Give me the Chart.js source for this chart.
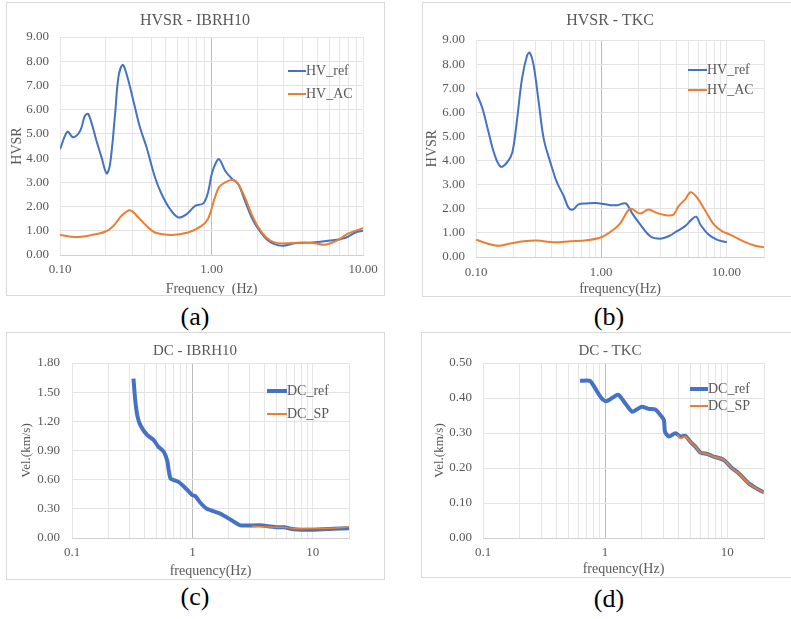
<!DOCTYPE html>
<html><head><meta charset="utf-8">
<script src="https://cdn.jsdelivr.net/npm/chart.js@4.4.1/dist/chart.umd.min.js"></script>
<style>
body{margin:0;background:#fff;width:791px;height:619px;position:relative;overflow:hidden;font-family:"Liberation Serif","Times New Roman",serif;}
canvas{position:absolute;}
.bx{position:absolute;border:1px solid #d9d9d9;box-sizing:border-box;pointer-events:none;}
.ttl{position:absolute;color:#595959;white-space:nowrap;transform:translate(-50%,-50%);}
.lg{position:absolute;color:#595959;font-size:14px;white-space:nowrap;display:flex;align-items:center;transform:translateY(-50%);}
.sw{display:inline-block;}
.lab{position:absolute;color:#000;font-size:26px;transform:translate(-50%,-50%);white-space:nowrap;}
</style></head>
<body>
<canvas id="ca" width="379" height="294" style="left:6px;top:2px"></canvas>
<canvas id="cb" width="368" height="295" style="left:422px;top:2px"></canvas>
<canvas id="cc" width="379" height="248" style="left:6px;top:332px"></canvas>
<canvas id="cd" width="369" height="246" style="left:421px;top:332px"></canvas>
<div class="bx" style="left:6px;top:2px;width:379px;height:294px"></div>
<div class="bx" style="left:422px;top:2px;width:370px;height:295px"></div>
<div class="bx" style="left:6px;top:332px;width:379px;height:248px"></div>
<div class="bx" style="left:421px;top:332px;width:371px;height:246px"></div>

<div class="ttl" style="left:195px;top:20px;font-size:16px">HVSR - IBRH10</div>
<div class="ttl" style="left:610px;top:20px;font-size:16px">HVSR - TKC</div>
<div class="ttl" style="left:195px;top:350px;font-size:15px">DC - IBRH10</div>
<div class="ttl" style="left:610px;top:350px;font-size:15px">DC - TKC</div>

<div class="lg" style="left:288px;top:71px"><span class="sw" style="width:18px;height:2px;background:#4472C4"></span>HV_ref</div>
<div class="lg" style="left:288px;top:94px"><span class="sw" style="width:18px;height:2px;background:#ED7D31"></span>HV_AC</div>
<div class="lg" style="left:688px;top:70px"><span class="sw" style="width:19px;height:2px;background:#4472C4"></span>HV_ref</div>
<div class="lg" style="left:688px;top:90px"><span class="sw" style="width:19px;height:2px;background:#ED7D31"></span>HV_AC</div>
<div class="lg" style="left:267px;top:391px"><span class="sw" style="width:20px;height:4px;background:#4472C4"></span>DC_ref</div>
<div class="lg" style="left:267px;top:414px"><span class="sw" style="width:20px;height:1.5px;background:#ED7D31"></span>DC_SP</div>
<div class="lg" style="left:690px;top:389px"><span class="sw" style="width:18px;height:4px;background:#4472C4"></span>DC_ref</div>
<div class="lg" style="left:690px;top:406px"><span class="sw" style="width:18px;height:2px;background:#ED7D31"></span>DC_SP</div>

<div class="lab" style="left:195px;top:317px">(a)</div>
<div class="lab" style="left:609px;top:317px">(b)</div>
<div class="lab" style="left:195px;top:597px">(c)</div>
<div class="lab" style="left:609px;top:599px">(d)</div>

<script>
// ---------- data ----------
// (a) HVSR - IBRH10
const freqA_ref = [0.10,0.112,0.122,0.136,0.146,0.154,0.174,0.188,0.203,0.214,0.231,0.243,0.259,0.275,0.305,0.337,0.373,0.424,0.469,0.532,0.605,0.686,0.78,0.883,0.95,1.0,1.05,1.12,1.23,1.36,1.5,1.66,1.84,2.04,2.3,2.6,2.97,3.54,4.6,5.9,7.6,8.9,10.0];
const hvA_ref   = [4.37,5.09,4.86,5.13,5.75,5.82,4.72,4.03,3.37,3.75,5.82,7.34,7.85,7.47,6.37,5.27,4.44,3.2,2.51,1.9,1.55,1.69,2.03,2.13,2.6,3.3,3.7,3.96,3.48,3.16,2.93,2.24,1.55,1.07,0.66,0.45,0.38,0.48,0.52,0.59,0.7,0.93,1.0];
const freqA_ac  = [0.10,0.126,0.16,0.2,0.225,0.255,0.29,0.329,0.373,0.424,0.545,0.7,0.86,0.95,1.05,1.12,1.23,1.39,1.5,1.66,1.84,2.04,2.3,2.6,3.05,3.9,4.8,5.6,6.7,8.0,10.0];
const hvA_ac    = [0.83,0.74,0.82,0.97,1.2,1.62,1.85,1.55,1.2,0.93,0.83,0.93,1.2,1.5,2.35,2.79,3.0,3.1,2.93,2.38,1.69,1.14,0.72,0.52,0.48,0.52,0.49,0.42,0.59,0.89,1.11];
// (b) HVSR - TKC
const freqB_ref = [0.10,0.112,0.126,0.139,0.157,0.177,0.195,0.213,0.233,0.256,0.269,0.289,0.317,0.348,0.393,0.444,0.502,0.55,0.595,0.66,0.77,0.9,1.05,1.2,1.35,1.5,1.6,1.76,2.05,2.47,2.97,3.46,4.03,4.69,5.3,5.75,6.2,7.21,8.4,10.1];
const hvB_ref   = [6.83,6.2,5.17,4.33,3.75,3.92,4.33,5.72,7.39,8.36,8.47,7.94,6.42,4.89,3.92,3.08,2.53,2.04,1.97,2.18,2.22,2.24,2.2,2.15,2.15,2.22,2.2,1.83,1.35,0.86,0.76,0.86,1.07,1.28,1.56,1.67,1.35,0.93,0.72,0.61];
const freqB_ac  = [0.10,0.123,0.152,0.188,0.241,0.308,0.418,0.568,0.77,1.01,1.26,1.43,1.71,2.05,2.39,2.78,3.24,3.79,4.15,4.69,5.19,5.84,6.83,7.94,9.22,10.7,13.7,17.0,20.0];
const hvB_ac    = [0.72,0.56,0.47,0.56,0.65,0.68,0.61,0.65,0.69,0.83,1.14,1.42,2.0,1.8,1.97,1.83,1.74,1.76,2.11,2.39,2.69,2.46,1.9,1.35,1.07,0.93,0.65,0.47,0.40];
// (c) DC - IBRH10
const freqC_ref = [0.324,0.335,0.35,0.37,0.42,0.476,0.52,0.577,0.62,0.635,0.66,0.76,0.85,0.93,1.0,1.06,1.17,1.32,1.7,2.07,2.5,3.6,5.1,5.8,7.0,10.2,14.9,20.0];
const velC_ref  = [1.64,1.42,1.25,1.16,1.06,1.01,0.94,0.89,0.79,0.70,0.61,0.58,0.53,0.48,0.44,0.43,0.36,0.30,0.25,0.19,0.13,0.13,0.11,0.11,0.09,0.085,0.095,0.10];
const freqC_sp  = [3.1,4.0,5.0,6.0,7.0,8.0,10.0,14.0,20.0];
const velC_sp   = [0.12,0.115,0.11,0.108,0.095,0.095,0.098,0.10,0.115];
// (d) DC - TKC
const freqD_ref = [0.623,0.751,0.827,0.937,1.03,1.21,1.29,1.46,1.66,1.83,2.0,2.27,2.58,2.84,3.03,3.09,3.33,3.76,4.14,4.53,4.99,5.49,6.04,6.86,7.54,9.36,10.98,12.4,15.0,17.7,20.0];
const velD_ref  = [0.449,0.449,0.428,0.399,0.391,0.406,0.409,0.385,0.361,0.368,0.375,0.369,0.367,0.351,0.337,0.304,0.29,0.299,0.29,0.292,0.275,0.261,0.244,0.24,0.234,0.223,0.199,0.185,0.156,0.14,0.13];
const freqD_sp  = [3.9,4.14,4.53,4.99,5.49,6.04,6.86,7.54,9.36,10.98,12.4,15.0,17.7,20.0];
const velD_sp   = [0.295,0.285,0.29,0.275,0.261,0.244,0.24,0.234,0.223,0.199,0.185,0.156,0.14,0.13];
// tick labels
const xDecades = [0.1,1,10];
const xLabelsHV = ['0.10','1.00','10.00'];
const xLabelsDC = ['0.1','1','10'];

// ---------- helpers ----------
const BLUE='#4472C4', ORANGE='#ED7D31', TXT='#595959';
const FONT='"Liberation Serif","Times New Roman",serif';
function pts(f,v){return f.map((x,i)=>({x:x,y:v[i]}));}
function logTickValues(max){
  const t=[];
  [0.1,1,10].forEach(d=>{for(let m=1;m<=9;m++){const v=+(m*d).toPrecision(3); if(v<=max+1e-9) t.push(v);}});
  return t;
}
function make(id, o){
  const W=o.W,H=o.H;
  new Chart(document.getElementById(id),{
    type:'line',
    data:{datasets:o.datasets},
    options:{
      responsive:false,animation:false,devicePixelRatio:1,
      layout:{padding:{left:0,top:o.pt,right:W-o.pr,bottom:0}},
      plugins:{legend:{display:false},tooltip:{enabled:false}},
      elements:{point:{radius:0}},
      scales:{
        x:{type:'logarithmic',min:0.1,max:o.xmax,
          afterBuildTicks:s=>{s.ticks=logTickValues(o.xmax).map(v=>({value:v}));},
          afterFit:s=>{s.height=H-o.pb;},
          ticks:{autoSkip:false,maxRotation:0,padding:o.xtp,color:TXT,font:{family:FONT,size:13},
            callback:v=>{const i=xDecades.findIndex(d=>Math.abs(d-v)<1e-9);return i>=0?o.xl[i]:'';}},
          grid:{drawTicks:false,color:c=>(c.tick&&Math.abs(c.tick.value-1)<1e-9)?'#bcbcbc':'#e6e6e6'},
          border:{display:true,color:'#d0d0d0'},
          title:{display:true,text:o.xt,color:TXT,font:{family:FONT,size:14},padding:{top:0,bottom:o.xtitlePad}}
        },
        y:{min:0,max:o.ymax,
          afterFit:s=>{s.width=o.pl;},
          ticks:{stepSize:o.ystep,padding:o.ytp,color:TXT,font:{family:FONT,size:13},callback:v=>Number(v).toFixed(2)},
          grid:{drawTicks:false,color:'#e3e3e3'},
          border:{display:false},
          title:{display:true,text:o.yt,color:TXT,font:{family:FONT,size:o.ytsize||14},padding:{top:o.ytitlePad,bottom:0}}
        }
      }
    }
  });
}
function ds(f,v,color,w,order,tension){
  return {data:pts(f,v),borderColor:color,backgroundColor:color,borderWidth:w,fill:false,tension:tension,order:order,pointRadius:0};
}

make('ca',{W:379,H:294,pl:54,pr:357,pt:35,pb:253,xmax:10,ymax:9,ystep:1,xl:xLabelsHV,xt:'Frequency  (Hz)',yt:'HVSR',
  xtp:7,ytp:11,xtitlePad:-2,ytitlePad:3,
  datasets:[ds(freqA_ref,hvA_ref,BLUE,2,1,0.35),ds(freqA_ac,hvA_ac,ORANGE,2,0,0.35)]});
make('cb',{W:368,H:295,pl:54,pr:342,pt:38,pb:255,xmax:20,ymax:9,ystep:1,xl:xLabelsHV,xt:'frequency(Hz)',yt:'HVSR',
  xtp:8,ytp:11,xtitlePad:-1,ytitlePad:2,
  datasets:[ds(freqB_ref,hvB_ref,BLUE,2,1,0.35),ds(freqB_ac,hvB_ac,ORANGE,2,0,0.35)]});
make('cc',{W:379,H:248,pl:66,pr:343,pt:31,pb:206,xmax:20,ymax:1.8,ystep:0.3,xl:xLabelsDC,xt:'frequency(Hz)',yt:'Vel.(km/s)',ytsize:13,
  xtp:7,ytp:12,xtitlePad:0,ytitlePad:13,
  datasets:[ds(freqC_ref,velC_ref,BLUE,4,1,0.15),ds(freqC_sp,velC_sp,ORANGE,1.5,0,0.15)]});
make('cd',{W:369,H:246,pl:62,pr:343,pt:31,pb:206,xmax:20,ymax:0.5,ystep:0.1,xl:xLabelsDC,xt:'frequency(Hz)',yt:'Vel.(km/s)',ytsize:13,
  xtp:7,ytp:11,xtitlePad:0,ytitlePad:11,
  datasets:[ds(freqD_ref,velD_ref,BLUE,4,1,0.25),ds(freqD_sp,velD_sp,ORANGE,2,0,0.25)]});
</script>
</body></html>
